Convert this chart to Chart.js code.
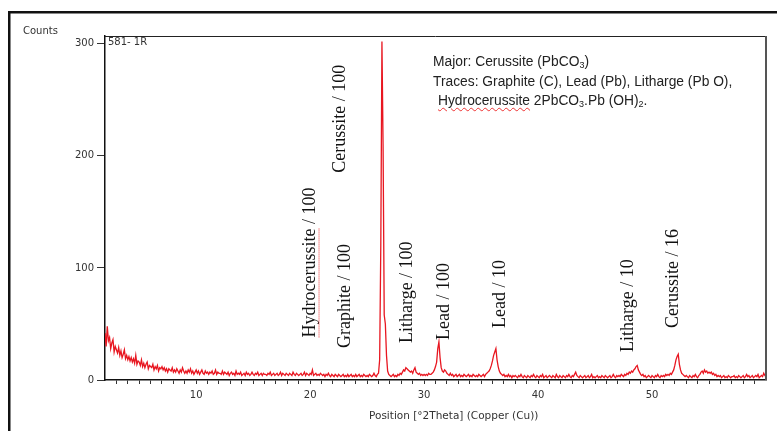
<!DOCTYPE html>
<html>
<head>
<meta charset="utf-8">
<script src="https://cdn.jsdelivr.net/npm/chart.js@4.4.1/dist/chart.umd.min.js"></script>
<style>
  body { margin: 0; background: #fff; }
  #wrap { position: relative; width: 777px; height: 431px; overflow: hidden; }
  #xrd { position: absolute; left: 0; top: 0; }
  #note {
    position: absolute; left: 433px; top: 52px;
    font-family: "Liberation Sans", Arial, sans-serif; font-size: 13.8px;
    line-height: 19.5px; color: #222; white-space: nowrap;
  }
  #note sub { font-size: 9px; vertical-align: -2px; line-height: 0; }
  #note .spell { text-decoration: underline wavy #e33; text-decoration-thickness: 1px; text-underline-offset: 2px; }
</style>
</head>
<body>
<div id="wrap">
  <canvas id="xrd" width="777" height="431"></canvas>
  <div id="note">
    <div>Major: Cerussite (PbCO<sub>3</sub>)</div>
    <div>Traces: Graphite (C), Lead (Pb), Litharge (Pb O),</div>
    <div style="padding-left:5px"><span class="spell">Hydrocerussite</span> 2PbCO<sub>3</sub>.Pb (OH)<sub>2</sub>.</div>
  </div>
</div>
<script>
// scan 2.0 .. 60.0 °2Theta, 0.1 step
const scanStart = 2.0;
const scanStep = 0.1;
const counts = [
  42,30,48,35,38,28,33,36,25,30,27,   // 2.0-3.0
  24,29,22,26,20,23,27,19,22,18,      // 3.1-4.0
  21,17,20,16,19,15,22,14,17,16,      // 4.1-5.0
  13,18,12,15,11,14,16,10,13,12,      // 5.1-6.0
  11,14,9,12,10,13,8,11,10,12,        // 6.1-7.0
  9,11,8,10,7,10,9,8,11,7,            // 7.1-8.0
  9,7,10,8,6,9,7,11,8,6,              // 8.1-9.0
  8,6,9,7,10,6,8,5,7,9,               // 9.1-10.0
  6,8,5,7,9,6,5,8,6,7,                // 10.1-11.0
  5,7,6,8,5,6,9,5,7,6,                // 11.1-12.0
  6,5,8,5,7,6,5,7,4,6,                // 12.1-13.0
  7,5,6,4,8,5,6,5,7,4,                // 13.1-14.0
  5,6,4,7,5,6,4,5,7,5,                // 14.1-15.0
  4,6,5,7,4,5,6,4,6,5,                // 15.1-16.0
  5,4,6,5,7,4,5,6,4,5,                // 16.1-17.0
  6,4,5,7,4,6,5,4,6,5,                // 17.1-18.0
  4,6,5,4,7,5,4,6,5,4,                // 18.1-19.0
  5,6,4,5,7,4,6,5,4,6,                // 19.1-20.0
  5,9,4,5,6,4,5,4,6,5,                // 20.1-21.0
  4,5,3,5,4,6,4,3,5,4,                // 21.1-22.0
  3,5,4,3,5,4,3,4,5,3,                // 22.1-23.0
  4,3,5,3,4,5,3,4,3,5,                // 23.1-24.0
  3,4,5,3,4,3,5,4,3,4,                // 24.1-25.0
  3,5,4,3,4,6,4,3,5,6,                // 25.1-26.0
  18,120,302,210,58,50,22,8,5,4,      // 26.1-27.0
  3,4,5,3,4,3,5,4,6,5,                // 27.1-28.0
  7,9,8,11,10,9,8,7,8,6,              // 28.1-29.0
  9,11,7,6,5,6,4,5,4,5,               // 29.1-30.0
  4,5,4,6,5,5,6,7,9,12,               // 30.1-31.0
  16,28,34,20,11,8,7,9,8,6,           // 31.1-32.0
  5,4,6,4,5,3,4,5,3,4,                // 32.1-33.0
  5,3,4,3,5,4,3,4,5,3,                // 33.1-34.0
  4,3,5,4,3,4,3,5,4,3,                // 34.1-35.0
  4,5,3,5,6,7,8,10,13,17,             // 35.1-36.0
  22,25,28,18,12,8,6,5,4,5,           // 36.1-37.0
  3,4,3,5,3,4,2,4,3,4,                // 37.1-38.0
  3,2,4,3,5,3,2,4,3,2,                // 38.1-39.0
  4,3,2,4,3,5,3,2,4,3,                // 39.1-40.0
  2,4,3,5,2,3,4,2,3,4,                // 40.1-41.0
  3,2,4,3,2,5,3,2,4,3,                // 41.1-42.0
  2,4,3,2,4,3,5,3,2,4,                // 42.1-43.0
  3,5,7,4,3,2,4,3,2,3,                // 43.1-44.0
  4,2,3,4,2,3,5,2,3,2,                // 44.1-45.0
  3,4,2,3,2,4,3,2,4,3,                // 45.1-46.0
  2,3,4,2,3,5,3,2,4,3,                // 46.1-47.0
  4,3,5,4,3,5,4,6,5,7,                // 47.1-48.0
  6,8,7,9,10,12,13,9,7,5,             // 48.1-49.0
  4,5,3,4,2,3,4,3,2,4,                // 49.1-50.0
  3,2,4,3,5,3,2,4,3,4,                // 50.1-51.0
  3,5,4,5,4,6,5,7,9,13,               // 51.1-52.0
  18,21,23,14,9,6,5,4,3,4,            // 52.1-53.0
  3,2,4,3,2,4,3,5,3,2,                // 53.1-54.0
  4,5,7,8,6,9,7,8,6,7,                // 54.1-55.0
  6,7,5,6,4,5,3,4,3,4,                // 55.1-56.0
  2,3,4,2,3,2,4,3,2,3,                // 56.1-57.0
  3,4,2,3,2,4,3,2,3,4,                // 57.1-58.0
  2,3,5,3,4,2,3,4,2,3,                // 58.1-59.0
  4,3,5,2,3,4,3,6,4,5                 // 59.1-60.0
];

const xTickLabels = [10, 20, 30, 40, 50];
const yTicks = [0, 100, 200, 300];

// phase labels: text, 2Theta position, counts where text starts
const peakNames = ['Hydrocerussite / 100', 'Graphite / 100', 'Cerussite / 100', 'Litharge / 100',
                   'Lead / 100', 'Lead / 10', 'Litharge / 10', 'Cerussite / 16'];
const peakLabelX = [19.99, 23.06, 22.62, 28.5, 31.75, 36.66, 47.89, 51.84];
const peakLabelY = [38, 28.6, 185, 33, 35.7, 46.4, 25, 46.4];

const points = counts.map((c, i) => ({ x: +(scanStart + i * scanStep).toFixed(1), y: c }));

const xMinorTicks = [];
for (let v = 3; v <= 59; v++) xMinorTicks.push(v);

const tickFont = { family: 'DejaVu Sans', size: 10 };

const decorations = {
  id: 'decorations',
  beforeDraw(chart) {
    const ctx = chart.ctx;
    ctx.save();
    ctx.fillStyle = '#111';
    ctx.fillRect(8, 11, 2.5, 420);   // outer frame
    ctx.fillRect(8, 11, 769, 2.5);
    ctx.restore();
  },
  afterDraw(chart) {
    const ctx = chart.ctx;
    const a = chart.chartArea;
    const xs = chart.scales.x, ys = chart.scales.y;
    ctx.save();
    ctx.strokeStyle = '#222';
    ctx.lineWidth = 1;
    ctx.beginPath();
    ctx.moveTo(a.left, a.top + 0.5);
    ctx.lineTo(a.right, a.top + 0.5);
    ctx.stroke();
    ctx.strokeStyle = '#555';
    ctx.lineWidth = 2;
    ctx.beginPath();
    ctx.moveTo(a.right, a.top);
    ctx.lineTo(a.right, a.bottom);
    ctx.stroke();

    ctx.fillStyle = '#333';
    ctx.font = "10px 'DejaVu Sans'";
    ctx.textBaseline = 'middle';
    ctx.textAlign = 'left';
    ctx.fillText('Counts', 23, 31);
    ctx.fillText('581- 1R', 108, 42);
    ctx.font = "10.5px 'DejaVu Sans'";
    ctx.fillText('Position [°2Theta] (Copper (Cu))', 369, 416);

    // rotated phase labels
    ctx.font = "18px 'Liberation Serif'";
    ctx.fillStyle = '#111';
    peakNames.forEach((name, i) => {
      const px = xs.getPixelForValue(peakLabelX[i]);
      const py = ys.getPixelForValue(peakLabelY[i]);
      ctx.save();
      ctx.translate(px, py);
      ctx.rotate(-Math.PI / 2);
      ctx.fillText(name, 0, 0);
      if (name.startsWith('Hydrocerussite')) {
        const w = ctx.measureText('Hydrocerussite').width;
        ctx.strokeStyle = '#e33';
        ctx.lineWidth = 1;
        ctx.setLineDash([1, 1]);
        ctx.beginPath();
        ctx.moveTo(0, 9);
        ctx.lineTo(w, 9);
        ctx.stroke();
      }
      ctx.restore();
    });
    ctx.restore();
  }
};

new Chart(document.getElementById('xrd'), {
  type: 'line',
  data: {
    datasets: [{
      data: points,
      borderColor: 'rgb(232,22,32)',
      borderWidth: 1.3,
      pointRadius: 0,
      tension: 0,
      fill: false
    }]
  },
  options: {
    responsive: false,
    animation: false,
    layout: { padding: { left: 0, top: 36, right: 11, bottom: 0 } },
    plugins: { legend: { display: false }, tooltip: { enabled: false } },
    scales: {
      x: {
        type: 'linear', min: 2, max: 60,
        afterBuildTicks: s => { s.ticks = xMinorTicks.map(v => ({ value: v })); },
        afterFit: s => { s.height = 51; },
        ticks: {
          autoSkip: false, maxRotation: 0, padding: 5, color: '#333', font: tickFont,
          callback: v => xTickLabels.includes(v) ? String(v) : ''
        },
        grid: { drawOnChartArea: false, drawTicks: true, tickLength: 4, color: '#333' },
        border: { color: '#111', width: 1.5 }
      },
      y: {
        min: 0, max: 307,
        afterBuildTicks: s => { s.ticks = yTicks.map(v => ({ value: v })); },
        afterFit: s => { s.width = 105; },
        ticks: { padding: 3, color: '#333', font: tickFont },
        grid: { drawOnChartArea: false, drawTicks: true, tickLength: 8, color: '#333' },
        border: { color: '#111', width: 1.5 }
      }
    }
  },
  plugins: [decorations]
});
</script>
</body>
</html>
